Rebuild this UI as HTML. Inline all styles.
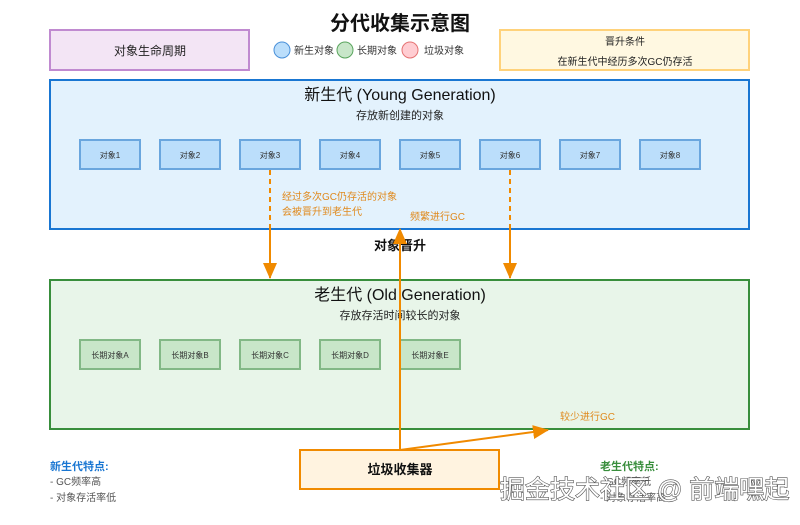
<!DOCTYPE html>
<html><head><meta charset="utf-8"><style>
body{margin:0;background:#fff;}
svg text{font-family:"Liberation Sans","Noto Sans CJK SC",sans-serif;}
</style></head><body>
<svg width="800" height="520" viewBox="0 0 800 520" xmlns="http://www.w3.org/2000/svg">
<defs>
<marker id="ab" markerWidth="16" markerHeight="14" refX="15" refY="7" orient="auto" markerUnits="userSpaceOnUse"><path d="M0,0 L16,7 L0,14 z" fill="#f08a00"/></marker>
</defs>
<text x="400" y="30" text-anchor="middle" font-size="20" font-weight="bold" fill="#111">分代收集示意图</text>
<rect x="50" y="30" width="199" height="40" fill="#f3e5f5" stroke="#c08ad0" stroke-width="2"/>
<text x="150" y="55" text-anchor="middle" font-size="12" fill="#222">对象生命周期</text>
<circle cx="282" cy="50" r="8" fill="#bbdefb" stroke="#4a90d9"/>
<text x="294" y="54" font-size="10" fill="#333">新生对象</text>
<circle cx="345" cy="50" r="8" fill="#c8e6c9" stroke="#5aa55e"/>
<text x="357" y="54" font-size="10" fill="#333">长期对象</text>
<circle cx="410" cy="50" r="8" fill="#ffcdd2" stroke="#e57373"/>
<text x="424" y="54" font-size="10" fill="#333">垃圾对象</text>
<rect x="500" y="30" width="249" height="40" fill="#fff8e1" stroke="#ffd27a" stroke-width="2"/>
<text x="625" y="45" text-anchor="middle" font-size="10" fill="#222">晋升条件</text>
<text x="625" y="65" text-anchor="middle" font-size="10" fill="#222">在新生代中经历多次GC仍存活</text>

<rect x="50" y="80" width="699" height="149" fill="#e3f2fd" stroke="#1976d2" stroke-width="2"/>
<text x="400" y="100" text-anchor="middle" font-size="16" fill="#111">新生代 (Young Generation)</text>
<text x="400" y="119" text-anchor="middle" font-size="11" fill="#222">存放新创建的对象</text>
<g font-size="8" fill="#333" text-anchor="middle">
<rect x="80" y="140" width="60" height="29" fill="#bbdefb" stroke="#6aa6de" stroke-width="2"/><text x="110" y="158">对象1</text>
<rect x="160" y="140" width="60" height="29" fill="#bbdefb" stroke="#6aa6de" stroke-width="2"/><text x="190" y="158">对象2</text>
<rect x="240" y="140" width="60" height="29" fill="#bbdefb" stroke="#6aa6de" stroke-width="2"/><text x="270" y="158">对象3</text>
<rect x="320" y="140" width="60" height="29" fill="#bbdefb" stroke="#6aa6de" stroke-width="2"/><text x="350" y="158">对象4</text>
<rect x="400" y="140" width="60" height="29" fill="#bbdefb" stroke="#6aa6de" stroke-width="2"/><text x="430" y="158">对象5</text>
<rect x="480" y="140" width="60" height="29" fill="#bbdefb" stroke="#6aa6de" stroke-width="2"/><text x="510" y="158">对象6</text>
<rect x="560" y="140" width="60" height="29" fill="#bbdefb" stroke="#6aa6de" stroke-width="2"/><text x="590" y="158">对象7</text>
<rect x="640" y="140" width="60" height="29" fill="#bbdefb" stroke="#6aa6de" stroke-width="2"/><text x="670" y="158">对象8</text>
</g>
<line x1="270" y1="170" x2="270" y2="229" stroke="#f08a00" stroke-width="2" stroke-dasharray="5,4"/>
<line x1="510" y1="170" x2="510" y2="229" stroke="#f08a00" stroke-width="2" stroke-dasharray="5,4"/>
<line x1="270" y1="229" x2="270" y2="278" stroke="#f08a00" stroke-width="2" marker-end="url(#ab)"/>
<line x1="510" y1="229" x2="510" y2="278" stroke="#f08a00" stroke-width="2" marker-end="url(#ab)"/>
<text x="282" y="200" font-size="10" fill="#e08a1e">经过多次GC仍存活的对象</text>
<text x="282" y="215" font-size="10" fill="#e08a1e">会被晋升到老生代</text>
<text x="410" y="220" font-size="10" fill="#e08a1e">频繁进行GC</text>
<text x="400" y="250" text-anchor="middle" font-size="13" font-weight="bold" fill="#111">对象晋升</text>

<rect x="50" y="280" width="699" height="149" fill="#e8f5e9" stroke="#388e3c" stroke-width="2"/>
<text x="400" y="300" text-anchor="middle" font-size="16" fill="#111">老生代 (Old Generation)</text>
<text x="400" y="319" text-anchor="middle" font-size="11" fill="#222">存放存活时间较长的对象</text>
<g font-size="8" fill="#333" text-anchor="middle">
<rect x="80" y="340" width="60" height="29" fill="#c8e6c9" stroke="#82b886" stroke-width="2"/><text x="110" y="358">长期对象A</text>
<rect x="160" y="340" width="60" height="29" fill="#c8e6c9" stroke="#82b886" stroke-width="2"/><text x="190" y="358">长期对象B</text>
<rect x="240" y="340" width="60" height="29" fill="#c8e6c9" stroke="#82b886" stroke-width="2"/><text x="270" y="358">长期对象C</text>
<rect x="320" y="340" width="60" height="29" fill="#c8e6c9" stroke="#82b886" stroke-width="2"/><text x="350" y="358">长期对象D</text>
<rect x="400" y="340" width="60" height="29" fill="#c8e6c9" stroke="#82b886" stroke-width="2"/><text x="430" y="358">长期对象E</text>
</g>
<text x="560" y="420" font-size="10" fill="#e08a1e">较少进行GC</text>
<line x1="400" y1="450" x2="400" y2="229" stroke="#f08a00" stroke-width="2" marker-end="url(#ab)"/>
<line x1="400" y1="450" x2="548" y2="430" stroke="#f08a00" stroke-width="2" marker-end="url(#ab)"/>
<rect x="300" y="450" width="199" height="39" fill="#fff3e0" stroke="#f08a00" stroke-width="2"/>
<text x="400" y="474" text-anchor="middle" font-size="13" font-weight="bold" fill="#111">垃圾收集器</text>

<text x="50" y="470" font-size="11" font-weight="bold" fill="#1976d2">新生代特点:</text>
<text x="50" y="485" font-size="10" fill="#555">- GC频率高</text>
<text x="50" y="501" font-size="10" fill="#555">- 对象存活率低</text>
<text x="600" y="470" font-size="11" font-weight="bold" fill="#388e3c">老生代特点:</text>
<text x="600" y="485" font-size="10" fill="#555">- GC频率低</text>
<text x="600" y="501" font-size="10" fill="#555">- 对象存活率高</text>
<text x="500" y="498" font-size="25" fill="#fff" stroke="#555" stroke-width="1.2" paint-order="stroke">掘金技术社区 @ 前端嘿起</text>
</svg>
</body></html>
